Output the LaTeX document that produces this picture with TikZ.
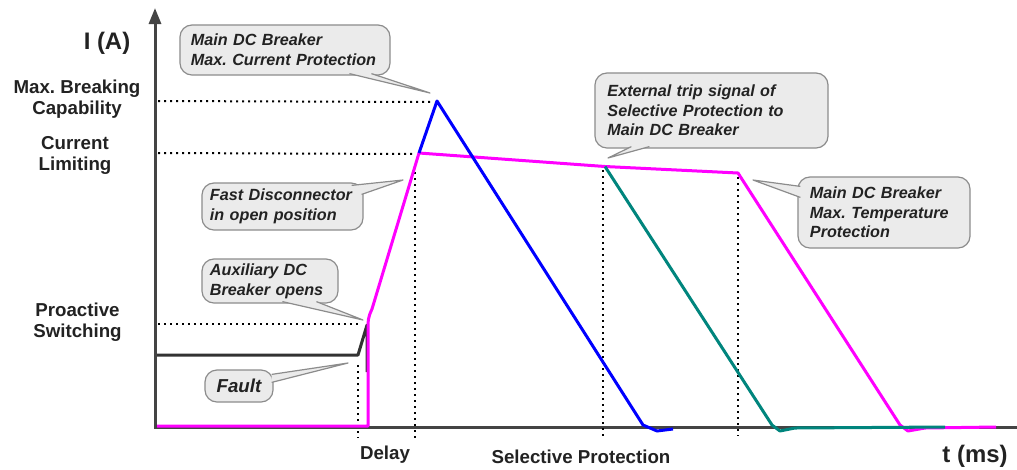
\documentclass[tikz,border=0pt]{standalone}
\usepackage{fontspec}
\setmainfont{Liberation Sans}
\usepackage{xcolor}
\usepackage{tikz}
\usetikzlibrary{arrows.meta}
\definecolor{tracemagenta}{HTML}{ff00ff}
\definecolor{traceblue}{HTML}{0000ff}
\definecolor{traceteal}{HTML}{00857d}
\definecolor{tracegray}{HTML}{333333}
\definecolor{axisgray}{HTML}{444444}
\definecolor{bubblefill}{HTML}{ebebeb}
\definecolor{bubbleline}{HTML}{8c8c8c}
\definecolor{labelgray}{HTML}{222222}
\frenchspacing
\tikzset{%
  axisline/.style={draw=axisgray, line width=0.075cm},%
  guideline/.style={draw=black, line width=0.05cm, dash pattern=on 0.05cm off 0.1cm},%
  trace/.style={line width=0.075cm, line join=round},%
  axislabel/.style={align=center, text=labelgray, font=\fontsize{13.3}{14.9}\selectfont\bfseries},%
  unitlabel/.style={text=labelgray, font=\fontsize{17}{20}\selectfont\bfseries},%
  bubble/.style={draw=bubbleline, fill=bubblefill, line width=0.03cm, rounded corners=0.3cm, inner xsep=0pt, inner ysep=0pt, align=left, text=labelgray, font=\fontsize{11.5}{14}\selectfont\bfseries\itshape},%
  pointerfill/.style={fill=bubblefill},%
  pointerline/.style={draw=bubbleline, line width=0.03cm, line join=round}%
}

\begin{document}
\begin{tikzpicture}[x=0.025cm, y=-0.025cm]%
\useasboundingbox (0,0) rectangle (1017,469);%
% axes
\coordinate (origin) at (155,427);%
\draw[axisline, -{Triangle[width=0.3cm, length=0.4cm]}] (155,428.5) -- (155,8);%
\draw[axisline] (154,427) -- (1017,427);%
% points of the traces
\coordinate (faultstart) at (358,355);%
\coordinate (auxtop) at (367,325);%
\coordinate (limitcorner) at (419,153);%
\coordinate (peak) at (437,101);%
\coordinate (tripcorner) at (605,166.5);%
\coordinate (tempcorner) at (738,173);%
% dotted guides
\draw[guideline] (peak -| origin) ++(3,0) -- (432,102);%
\draw[guideline] (limitcorner -| origin) ++(3,0) -- (414,154);%
\draw[guideline] (158,324) -- (362,324);%
\draw[guideline] (358,365) -- (358,438);%
\draw[guideline] (415,172) -- (415,438);%
\draw[guideline] (603,170) -- (603,437);%
\draw[guideline] (738,177) -- (738,436);%
% traces
\draw[trace, tracegray] (157,355) -- (faultstart) -- (auxtop) -- (367,372);%
\draw[trace, tracemagenta] (157,426) -- (368,426) -- (368,335) .. controls (368,318) .. (372,309) -- (limitcorner) -- (tripcorner) -- (tempcorner) -- (900,425) -- (908,431) -- (925,428) -- (996,427);%
\draw[trace, traceblue] (limitcorner) -- (peak) -- (643,425) -- (657,431) -- (673,429);%
\draw[trace, traceteal] (tripcorner) -- (772,425) -- (780,431) -- (795,428) -- (945,427);%
% axis labels
\node[unitlabel] (current) at (107,43) {I (A)};%
\node[axislabel] (maxbreak) at (77,99.5) {Max. Breaking\\Capability};%
\node[axislabel] (currlimit) at (75,155.5) {Current\\Limiting};%
\node[axislabel] (proactive) at (77.5,322.5) {Proactive\\Switching};%
\node[axislabel] (delay) at (385,455) {Delay};%
\node[axislabel] (selective) at (581,457) {Selective Protection};%
\node[unitlabel] (time) at (975,456) {t (ms)};%
% callouts
\node[bubble, minimum width=5.25cm, minimum height=1.25cm, text width=4.7cm] (maxcurrent) at (285,50) {Main DC Breaker\\Max. Current Protection};%
\node[bubble, minimum width=4.025cm, minimum height=1.175cm, text width=3.625cm] (fastdisc) at (282.5,206.5) {Fast Disconnector\\in open position};%
\node[bubble, minimum width=3.4cm, minimum height=1.1cm, text width=3.0cm] (auxopen) at (270,281) {Auxiliary DC\\Breaker opens};%
\node[bubble, minimum width=1.7cm, minimum height=0.8cm, align=center, font=\fontsize{13.3}{15}\selectfont\bfseries\itshape] (fault) at (239,386) {Fault};%
\node[bubble, minimum width=5.825cm, minimum height=1.875cm, text width=5.2cm] (tripsignal) at (711.5,110.5) {External trip signal of\\Selective Protection to\\Main DC Breaker};%
\node[bubble, minimum width=4.3cm, minimum height=1.775cm, text width=3.7cm] (maxtemp) at (884,212.5) {Main DC Breaker\\Max. Temperature\\Protection};%
% callout pointers
\coordinate (maxcurrenttip) at (430,93);%
\coordinate (fastdisctip) at (403,180);%
\coordinate (auxopentip) at (363,320);%
\coordinate (faulttip) at (348,363);%
\coordinate (tripsignaltip) at (608,158);%
\coordinate (maxtemptip) at (753,180);%
\fill[pointerfill] ([xshift=4.25cm, yshift=0.05cm]maxcurrent.south west) -- (maxcurrenttip) -- ([xshift=4.8cm, yshift=0.05cm]maxcurrent.south west) -- cycle;%
\draw[pointerline] ([xshift=4.25cm, yshift=0.05cm]maxcurrent.south west) -- (maxcurrenttip) -- ([xshift=4.8cm, yshift=0.05cm]maxcurrent.south west);%
\fill[pointerfill] ([xshift=-0.3cm, yshift=-0.075cm]fastdisc.north east) -- (fastdisctip) -- ([xshift=-0.05cm, yshift=-0.3cm]fastdisc.north east) -- cycle;%
\draw[pointerline] ([xshift=-0.3cm, yshift=-0.075cm]fastdisc.north east) -- (fastdisctip) -- ([xshift=-0.05cm, yshift=-0.3cm]fastdisc.north east);%
\fill[pointerfill] ([xshift=2.025cm, yshift=0.05cm]auxopen.south west) -- (auxopentip) -- ([xshift=2.875cm, yshift=0.05cm]auxopen.south west) -- cycle;%
\draw[pointerline] ([xshift=2.025cm, yshift=0.05cm]auxopen.south west) -- (auxopentip) -- ([xshift=2.875cm, yshift=0.05cm]auxopen.south west);%
\fill[pointerfill] ([xshift=-0.05cm, yshift=-0.125cm]fault.north east) -- (faulttip) -- ([xshift=-0.05cm, yshift=-0.325cm]fault.north east) -- cycle;%
\draw[pointerline] ([xshift=-0.05cm, yshift=-0.125cm]fault.north east) -- (faulttip) -- ([xshift=-0.05cm, yshift=-0.325cm]fault.north east);%
\fill[pointerfill] ([xshift=0.925cm, yshift=0.05cm]tripsignal.south west) -- (tripsignaltip) -- ([xshift=1.375cm, yshift=0.05cm]tripsignal.south west) -- cycle;%
\draw[pointerline] ([xshift=0.925cm, yshift=0.05cm]tripsignal.south west) -- (tripsignaltip) -- ([xshift=1.375cm, yshift=0.05cm]tripsignal.south west);%
\fill[pointerfill] ([xshift=0.075cm, yshift=-0.25cm]maxtemp.north west) -- (maxtemptip) -- ([xshift=0.075cm, yshift=-0.525cm]maxtemp.north west) -- cycle;%
\draw[pointerline] ([xshift=0.075cm, yshift=-0.25cm]maxtemp.north west) -- (maxtemptip) -- ([xshift=0.075cm, yshift=-0.525cm]maxtemp.north west);%
\end{tikzpicture}
\end{document}
